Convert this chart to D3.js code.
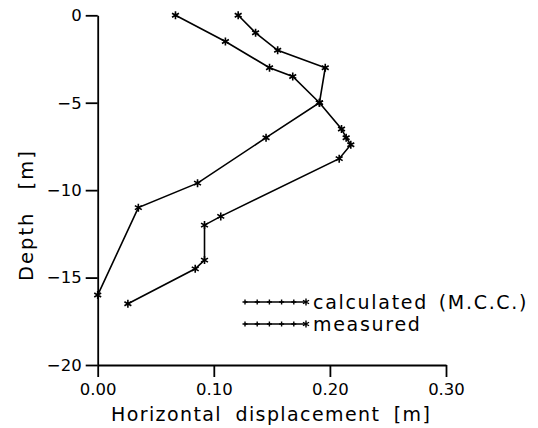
<!DOCTYPE html>
<html>
<head>
<meta charset="utf-8">
<script src="https://cdn.jsdelivr.net/npm/d3@7"></script>
<style>
  body { margin: 0; background: #fff; }
  text { font-family: "DejaVu Sans", sans-serif; fill: #000; }
</style>
</head>
<body>
<div id="chart"></div>
<script>
// depth [m] and horizontal displacement [m]
var calcDepth = [0, -1.5, -3, -3.5, -5, -6.5, -7, -7.4, -8.2, -11.5, -12, -14, -14.5, -16.5];
var calcDisp  = [0.067, 0.110, 0.148, 0.168, 0.191, 0.210, 0.214, 0.218, 0.208, 0.106, 0.092, 0.092, 0.084, 0.026];
var measDepth = [0, -1, -2, -3, -5, -7, -9.6, -11, -16];
var measDisp  = [0.121, 0.136, 0.155, 0.196, 0.191, 0.145, 0.086, 0.035, 0.000];

var seriesNames = ["calculated (M.C.C.)", "measured"];
var xTicks = [0, 0.1, 0.2, 0.3];
var xTickLabels = ["0.00", "0.10", "0.20", "0.30"];
var yTicks = [0, -5, -10, -15, -20];
var yTickLabels = ["0", "\u22125", "\u221210", "\u221215", "\u221220"];

var W = 538, H = 428;
var margin = {top: 15.3, right: 92, bottom: 63, left: 97.7};

var svg = d3.select("#chart").append("svg")
  .attr("width", W).attr("height", H);

var x = d3.scaleLinear().domain([0, 0.3]).range([margin.left, W - margin.right]);
var y = d3.scaleLinear().domain([0, -20]).range([margin.top, H - margin.bottom]);

// asterisk marker
var star = {
  draw: function(ctx, size) {
    var r = Math.sqrt(size) / 2;
    for (var i = 0; i < 3; i++) {
      var a = Math.PI / 2 + i * Math.PI / 3;
      ctx.moveTo(r * Math.cos(a), r * Math.sin(a));
      ctx.lineTo(-r * Math.cos(a), -r * Math.sin(a));
    }
  }
};
// small cross for the legend line
var cross = {
  draw: function(ctx, size) {
    var r = Math.sqrt(size) / 2;
    ctx.moveTo(0, -r); ctx.lineTo(0, r);
    ctx.moveTo(-r, 0); ctx.lineTo(r, 0);
  }
};

// axes
var xAxis = svg.append("g")
  .attr("transform", "translate(0," + y(-20) + ")")
  .call(d3.axisBottom(x).tickValues(xTicks)
    .tickFormat(function(d, i) { return xTickLabels[i]; })
    .tickSize(12).tickSizeOuter(0).tickPadding(6));

var yAxis = svg.append("g")
  .attr("transform", "translate(" + x(0) + ",0)")
  .call(d3.axisLeft(y).tickValues(yTicks)
    .tickFormat(function(d, i) { return yTickLabels[i]; })
    .tickSize(12).tickSizeOuter(0).tickPadding(4));

[xAxis, yAxis].forEach(function(g) {
  g.selectAll("path, line").attr("stroke", "#000").attr("stroke-width", 1.8);
  g.selectAll("text").style("font-size", "16.5px").style("font-family", "DejaVu Sans");
});

// axis titles
svg.append("text")
  .attr("x", 111).attr("y", 421)
  .style("font-size", "19px")
  .style("letter-spacing", "1.4px")
  .style("word-spacing", "6px")
  .text("Horizontal displacement [m]");

svg.append("text")
  .attr("transform", "translate(33,281) rotate(-90)")
  .style("font-size", "19.5px")
  .style("letter-spacing", "2px")
  .style("word-spacing", "14px")
  .text("Depth [m]");

// data lines
var line = d3.line()
  .x(function(d) { return x(d[0]); })
  .y(function(d) { return y(d[1]); });

var series = [
  d3.zip(calcDisp, calcDepth),
  d3.zip(measDisp, measDepth)
];

series.forEach(function(pts) {
  svg.append("path")
    .datum(pts)
    .attr("d", line)
    .attr("fill", "none")
    .attr("stroke", "#000")
    .attr("stroke-width", 1.6);

  svg.selectAll(null)
    .data(pts)
    .enter().append("path")
    .attr("transform", function(d) { return "translate(" + x(d[0]) + "," + y(d[1]) + ")"; })
    .attr("d", d3.symbol().type(star).size(64))
    .attr("fill", "none")
    .attr("stroke", "#000")
    .attr("stroke-width", 1.6);
});

// legend
var legX0 = 245, legX1 = 306, legTextX = 313;
var legRows = [302, 324];
seriesNames.forEach(function(name, i) {
  var ly = legRows[i];
  svg.append("line")
    .attr("x1", legX0).attr("x2", legX1)
    .attr("y1", ly).attr("y2", ly)
    .attr("stroke", "#000").attr("stroke-width", 1.6);
  var marks = d3.range(6).map(function(k) { return legX0 + k * (legX1 - legX0) / 5; });
  svg.selectAll(null)
    .data(marks)
    .enter().append("path")
    .attr("transform", function(d) { return "translate(" + d + "," + ly + ")"; })
    .attr("d", function(d, k) { return d3.symbol().type(k === 5 ? star : cross).size(k === 5 ? 49 : 25)(); })
    .attr("fill", "none")
    .attr("stroke", "#000")
    .attr("stroke-width", 1.4);
  svg.append("text")
    .attr("x", legTextX).attr("y", ly + 6.5)
    .style("font-size", "19px")
    .style("letter-spacing", "1.7px")
    .style("word-spacing", "3px")
    .text(name);
});
</script>
</body>
</html>
